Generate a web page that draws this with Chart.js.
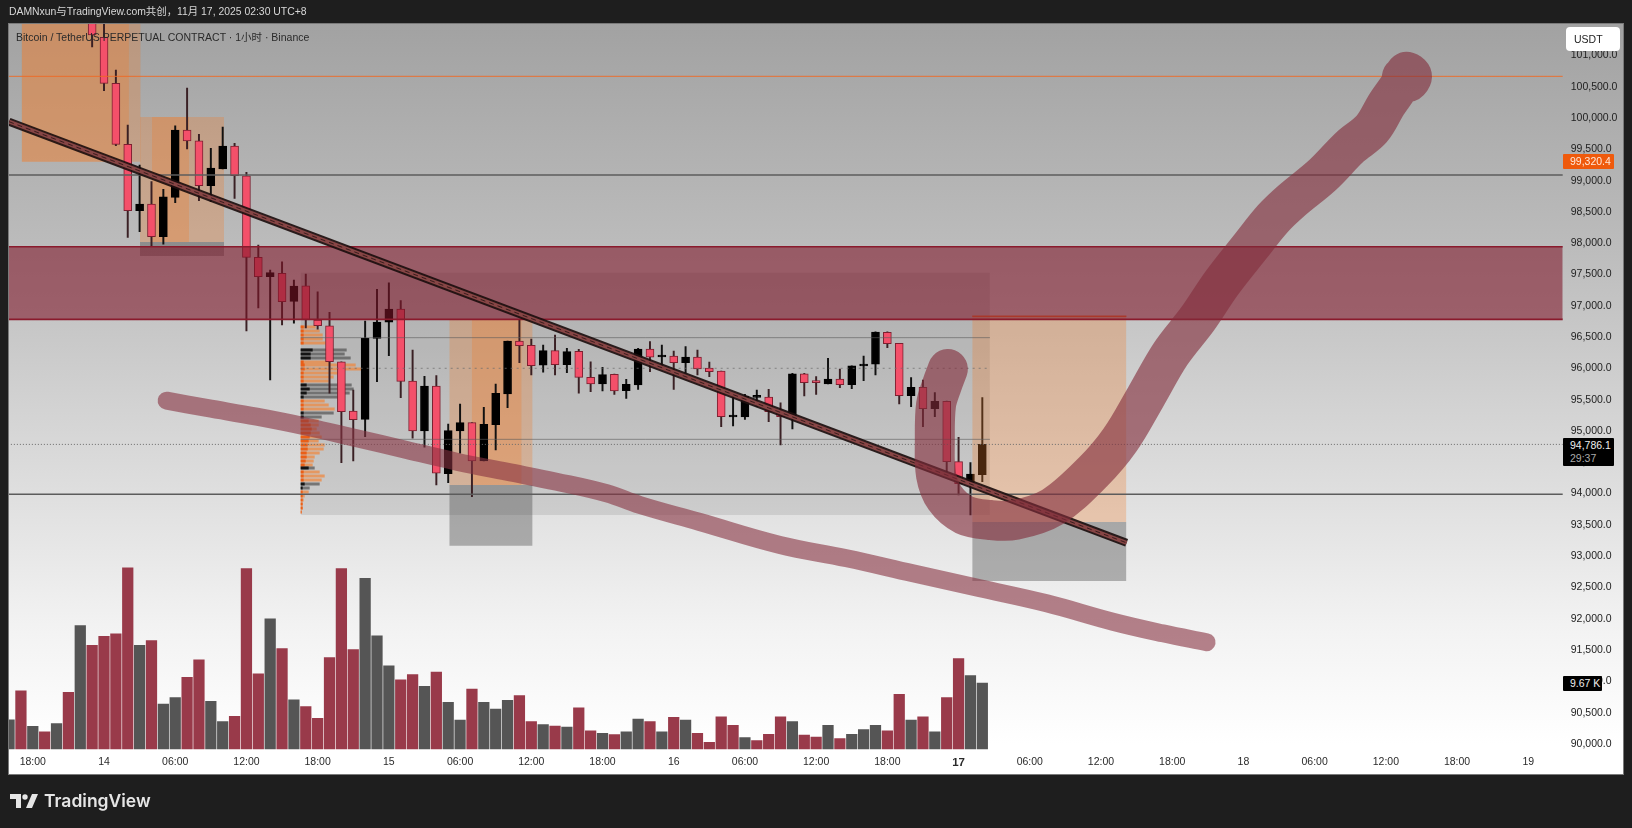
<!DOCTYPE html>
<html><head><meta charset="utf-8"><title>BTCUSDT</title>
<script src="https://cdn.jsdelivr.net/npm/chart.js@4"></script>
<style>
html,body{margin:0;padding:0;background:#1e1e1e;overflow:hidden}
#wrap{position:relative;width:1632px;height:828px;font-family:"Liberation Sans",Arial,sans-serif}
canvas{position:absolute;left:0;top:0}
.t{position:absolute;white-space:nowrap;line-height:1}
.box{position:absolute;box-sizing:border-box}
</style></head><body><div id="wrap">
<canvas id="c" width="1632" height="828"></canvas>
<div class="t" style="left:9px;top:7px;font-size:10.4px;color:#d8d8d8;font-family:'Liberation Sans','Noto Sans CJK SC'">DAMNxun与TradingView.com共创，11月 17, 2025 02:30 UTC+8</div>
<div class="t" style="left:16px;top:32px;font-size:10.5px;color:#2a2a2a;font-family:'Liberation Sans','Noto Sans CJK SC'">Bitcoin / TetherUS PERPETUAL CONTRACT · 1小时 · Binance</div>
<div class="box" style="left:1566px;top:27px;width:54px;height:24px;background:#fff;border-radius:4px"></div>
<div class="t" style="left:1574px;top:34px;font-size:10.5px;color:#222">USDT</div>
<div class="box" style="left:1563px;top:154px;width:51px;height:15px;background:#ef5a0c;border-radius:1px"></div>
<div class="t" style="left:1570px;top:156px;font-size:10.5px;color:#ffe9da">99,320.4</div>
<div class="box" style="left:1563px;top:438px;width:51px;height:28px;background:#000;border-radius:1px"></div>
<div class="t" style="left:1570px;top:440px;font-size:10.5px;color:#eee">94,786.1</div>
<div class="t" style="left:1570px;top:453px;font-size:10.5px;color:#aaa">29:37</div>
<div class="box" style="left:1563px;top:676px;width:39px;height:15px;background:#000;border-radius:1px"></div>
<div class="t" style="left:1570px;top:678px;font-size:10.5px;color:#eee">9.67 K</div>
<svg style="position:absolute;left:10px;top:793px" width="28" height="16" viewBox="0 0 28 16"><path d="M0 1h11v14H6V6H0zM22 1h6l-6 14h-6z" fill="#e6e6e6"/><circle cx="15" cy="4" r="2.7" fill="#e6e6e6"/></svg>
<div class="t" style="left:44px;top:792px;font-size:17.5px;font-weight:600;color:#e6e6e6;font-family:Inter,'Liberation Sans'">TradingView</div>
</div>
<script>
// ---- data ----
const firstHour = -2;                       // hours relative to 13 Nov 18:00
const volume = [4.29,8.54,3.33,2.53,3.71,8.31,18.07,15.19,16.51,16.89,26.56,15.19,15.87,6.59,7.52,10.5,13.08,6.99,4.0,4.79,26.42,11.03,19.09,14.7,7.22,6.2,4.5,13.38,26.42,14.55,25.01,16.6,12.2,10.15,10.89,9.19,11.28,6.84,4.25,8.79,6.84,5.86,7.14,7.81,4.0,3.56,3.37,3.22,6.05,2.68,2.3,2.1,2.53,4.4,4.0,2.53,4.64,4.25,2.3,0.98,4.73,3.47,1.66,1.22,2.15,4.73,4.0,2.05,1.76,3.47,1.51,2.15,2.83,3.47,2.68,8.01,4.25,4.73,2.53,7.52,13.23,10.74,9.67];
const volumeUp = [1,0,1,0,1,0,1,0,0,0,0,1,0,1,1,0,0,1,1,0,0,0,1,0,1,0,0,0,0,0,1,1,1,0,0,1,0,1,1,0,1,1,1,0,0,1,0,1,0,0,1,0,1,1,0,1,0,1,0,0,0,0,1,0,0,0,1,0,0,1,0,1,1,1,0,0,1,0,1,0,0,1,1];
const open  = [null,null,null,null,null,null,null,101645,101289,100554,99580,98519,98626,98104,98733,99808,99637,98919,99185,99553,99078,97775,97465,97519,97072,97321,96773,96682,96107,95320,95187,96481,96737,96949,95799,95000,95719,94318,95000,95133,94521,95101,95591,96438,96369,96050,96283,96059,96273,95858,95751,95906,95644,95735,96310,96182,96198,96091,96182,96007,95959,95224,95224,95538,95543,95308,95229,95915,95788,95751,95831,95740,96038,96066,96577,96401,95564,95698,95356,95474,94510,94165,94302];
const close = [null,null,null,null,null,null,null,101326,100554,99580,98519,98626,98104,98743,99808,99633,98919,99201,99553,99078,97775,97465,97529,97066,97316,96773,96682,96107,95308,95181,96481,96741,96949,95794,95000,95719,94325,95005,95133,94521,95107,95602,96438,96363,96043,96283,96059,96267,95858,95751,95900,95639,95746,96310,96178,96198,96091,96182,95991,95948,95229,95240,95559,95559,95308,95229,95915,95772,95772,95831,95740,96043,96070,96582,96395,95564,95698,95356,95474,94510,94158,94313,94786];
const high  = [null,null,null,null,null,null,null,101757,101597,100767,99888,99249,98983,98861,99877,100479,99740,99516,99856,99596,99133,97971,97572,97704,97412,97508,97225,96896,96107,95655,96757,97264,97369,97082,96294,95874,95884,95112,95432,95133,95379,95751,96438,96773,96470,96374,96534,96321,96305,96107,96018,95911,95826,96321,96427,96374,96278,96347,96294,96102,95959,95602,95587,95655,95666,95452,95922,95922,95868,96161,95991,96043,96198,96586,96586,96401,95852,95815,95612,95479,94899,94494,95532];
const low   = [null,null,null,null,null,null,null,101134,100436,99558,98094,98184,97944,97983,98647,99505,98679,98663,99185,98717,96597,96965,95815,96693,96721,96645,96625,95603,94494,94521,94909,95788,96203,95532,94884,94740,94138,94174,94644,93951,94521,94697,95372,96091,95895,95938,95895,95932,95603,95628,95639,95586,95522,95666,95947,96007,95666,95922,95895,95868,95069,95080,95187,95388,95149,94776,95032,95559,95586,95751,95692,95676,95804,95895,96331,95431,95388,95069,95228,94350,93978,93658,94190];
const tickLabels = ["18:00","14","06:00","12:00","18:00","15","06:00","12:00","18:00","16","06:00","12:00","18:00","17","06:00","12:00","18:00","18","06:00","12:00","18:00","19"];
const tickHours  = [0,6,12,18,24,30,36,42,48,54,60,66,72,78,84,90,96,102,108,114,120,126];
const priceTicks = [90000,90500,91000,91500,92000,92500,93000,93500,94000,94500,95000,95500,96000,96500,97000,97500,98000,98500,99000,99500,100000,100500,101000];
const priceMin = 89904, priceMax = 101502, hourMin = -2.005, hourMax = 128.9;

// drawing tools: [hourFrom, hourTo, priceTop, priceBottom]
const tintBoxes  = [[-0.94,9.09,101502,99302],[-0.94,8.10,101502,99302],[9.03,16.11,100016,98019],[10.04,13.16,100016,98019],[35.09,42.11,96773,94138],[36.98,41.19,96773,94138]];
const lastTint   = [79.15,92.14,96832,93546];
const stopBoxes  = [[9.03,16.11,98019,97796],[35.09,42.11,94138,93168]];
const lastStop   = [79.15,92.14,93546,92604];
const rangeBox   = [22.57,80.64,97529,93658];
const redBand    = [-2.1,129,97944,96784];
const solidLines = [[-2.1,129,99089],[-2.1,129,93989]];
const orangeLine = [-2.1,129,100666];
const rangeLines = [[22.57,80.64,96491],[22.57,80.64,94867]];
const pocLine    = [22.57,80.64,96002];
const lastLine   = [-2.1,129,94786];
const trendHours = [-2.005,92.16], trendPrices = [99941,93213];
const lowerHours = [11.28,14.65,18.86,23.07,27.29,31.5,35.71,39.92,44.13,48.35,51.15,56.2,62.95,68.57,74.15,79.8,85.42,91.0,95.2,98.9];
const lowerPrices= [95484,95368,95229,95069,94884,94697,94510,94350,94190,94005,93818,93546,93179,92967,92727,92488,92248,91954,91768,91625];
const upperHours = [77.1,76.6,76.1,76.0,76.1,76.85,78.5,80.65,82.75,85.92,89.32,91.6,93.76,95.86,98.16,100.18,102.6,104.48,106.05,108.67,110.97,112.8,114.08,115.18,115.7,116.2,115.85,115.35];
const upperPrices= [95990,95735,95416,94856,94297,93930,93658,93578,93578,93786,94345,94856,95543,96230,96796,97364,97949,98393,98679,99090,99537,99824,100224,100527,100735,100671,100575,100655];
const profilePrices = [96661,96598,96534,96470,96406,96294,96230,96166,96102,96054,95991,95927,95863,95799,95735,95671,95607,95543,95479,95415,95351,95288,95224,95160,95096,95032,94968,94904,94840,94776,94713,94649,94585,94521,94457,94409,94345,94281,94217,94153,94090,94026,93962,93898,93834,93770,93706];
const profileSize   = [15,19,22,22,25,46,44,50,30,55,66,38,33,28,51,53,49,38,24,28,34,33,21,18,18,16,19,21,18,24,23,19,14,13,12,14,19,24,21,19,9,8,4,3,2,2,1];
const profileCore   = [3,3,3,3,3,12,10,10,3,4,4,3,3,3,6,9,6,3,3,3,3,3,3,8,10,11,10,9,8,7,7,6,6,5,4,8,3,3,3,4,2,2,2,2,2,2,1];
const profileKind   = ['o','o','o','o','o','g','g','g','o','o','o','o','o','o','g','g','g','g','o','o','o','g','g','o','o','o','o','o','o','o','o','o','o','o','o','g','o','o','o','g','g','o','o','o','o','o','o'];

// ---- chart ----
const hourOf = i => firstHour + i;
const n = volume.length;
const seg = (x0,x1,y,opt) => Object.assign({type:'line',data:[{x:x0,y},{x:x1,y}],pointRadius:0,borderWidth:1,fill:false},opt);
const box = (b,color,order,extra) => Object.assign({type:'line',data:[{x:b[0],y:b[2]},{x:b[1],y:b[2]}],pointRadius:0,borderWidth:0,backgroundColor:color,fill:{value:b[3]},order},extra||{});
const profileSet = (kind,sizes,color,order) => {
  const d=[]; profilePrices.forEach((p,i)=>{ if(profileKind[i]===kind){ d.push({x:rangeBox[0],y:p},{x:rangeBox[0]+sizes[i]/11.87,y:p},{x:null,y:null}); }});
  return {type:'line',data:d,pointRadius:0,borderColor:color,borderWidth:3,borderCapStyle:'butt',fill:false,order};
};
const candleIdx=[...Array(n).keys()].filter(i=>open[i]!==null);
const isUp=i=>close[i]>=open[i];
const datasets=[
  {type:'bar',yAxisID:'yVol',data:volume.map((v,i)=>({x:hourOf(i),y:v})),barThickness:10.6,grouped:false,
   backgroundColor:volume.map((v,i)=>volumeUp[i]?'#555555':'#993a4a'),order:100},
  box(rangeBox,'rgba(40,40,40,0.11)',95),
  ...tintBoxes.map(b=>box(b,'rgba(240,125,45,0.30)',94)),
  ...stopBoxes.map(b=>box(b,'rgba(60,60,60,0.36)',94)),
  profileSet('o',profileSize,'rgba(240,135,60,0.72)',92),
  profileSet('g',profileSize,'rgba(85,85,85,0.72)',91),
  profileSet('o',profileCore,'rgba(235,85,10,0.85)',90),
  profileSet('g',profileCore,'rgba(10,10,10,0.9)',89),
  {type:'bar',data:candleIdx.map(i=>({x:hourOf(i),y:[low[i],high[i]]})),barThickness:1.3,grouped:false,
   backgroundColor:candleIdx.map(i=>isUp(i)?'#111111':'#3a2024'),order:81},
  {type:'bar',data:candleIdx.map(i=>({x:hourOf(i),y:[open[i],close[i]]})),barThickness:8,grouped:false,minBarLength:2,borderWidth:1,borderSkipped:false,
   backgroundColor:candleIdx.map(i=>isUp(i)?'#000000':'#f4506a'),borderColor:candleIdx.map(i=>isUp(i)?'#000000':'#7c2030'),order:80},
  box(lastTint,'rgba(240,125,45,0.30)',60,{borderWidth:1.5,borderColor:'rgba(235,90,20,0.8)'}),
  box(lastStop,'rgba(60,60,60,0.36)',60),
  box(redBand,'rgba(125,20,40,0.58)',50),
  seg(redBand[0],redBand[1],redBand[2],{borderColor:'#8a1a2c',borderWidth:1.6,order:49}),
  seg(redBand[0],redBand[1],redBand[3],{borderColor:'#8a1a2c',borderWidth:1.6,order:49}),
  seg(orangeLine[0],orangeLine[1],orangeLine[2],{borderColor:'rgba(240,105,35,0.9)',borderWidth:1,order:45}),
  ...solidLines.map(l=>seg(l[0],l[1],l[2],{borderColor:'#5c5c5c',borderWidth:1.5,order:45})),
  ...rangeLines.map(l=>seg(l[0],l[1],l[2],{borderColor:'rgba(90,90,90,0.6)',borderWidth:1,order:45})),
  seg(pocLine[0],pocLine[1],pocLine[2],{borderColor:'rgba(110,110,110,0.75)',borderWidth:1,borderDash:[2,4],order:45}),
  seg(lastLine[0],lastLine[1],lastLine[2],{borderColor:'#6a6a6a',borderWidth:1,borderDash:[1,2],order:45}),
  {type:'line',data:trendHours.map((h,i)=>({x:h,y:trendPrices[i]})),pointRadius:0,borderColor:'rgba(28,14,14,0.92)',borderWidth:8,fill:false,order:32},
  {type:'line',data:trendHours.map((h,i)=>({x:h,y:trendPrices[i]})),pointRadius:0,borderColor:'rgba(140,72,72,0.95)',borderWidth:4,fill:false,order:31},
  {type:'line',data:trendHours.map((h,i)=>({x:h,y:trendPrices[i]})),pointRadius:0,borderColor:'rgba(40,20,20,0.8)',borderWidth:1,borderDash:[5,4],fill:false,order:30},
  {type:'line',data:lowerHours.map((h,i)=>({x:h,y:lowerPrices[i]})),pointRadius:0,borderColor:'rgba(135,50,65,0.60)',borderWidth:18,borderCapStyle:'round',borderJoinStyle:'round',tension:.4,fill:false,order:20},
  {type:'line',data:upperHours.map((h,i)=>({x:h,y:upperPrices[i]})),pointRadius:0,borderColor:'rgba(130,45,60,0.62)',borderWidth:40,borderCapStyle:'round',borderJoinStyle:'round',tension:.35,fill:false,order:20}
];
const paneBg={id:'paneBg',beforeDraw(ch){const g=ch.ctx,gr=g.createLinearGradient(0,24,0,774);
  gr.addColorStop(0,'#a2a2a2');gr.addColorStop(.3,'#bcbcbc');gr.addColorStop(.6,'#dcdcdc');gr.addColorStop(.8,'#f2f2f2');gr.addColorStop(.96,'#ffffff');gr.addColorStop(1,'#ffffff');
  g.save();g.fillStyle='#1e1e1e';g.fillRect(0,0,1632,828);g.fillStyle=gr;g.fillRect(9,24,1614,750);g.strokeStyle='#7a7a7a';g.lineWidth=1;g.strokeRect(8.5,23.5,1615,751);g.restore();}};
new Chart(document.getElementById('c'),{
  type:'bar',
  data:{datasets},
  plugins:[paneBg],
  options:{
    responsive:false,animation:false,devicePixelRatio:1,
    layout:{autoPadding:false,padding:{left:9,top:24,right:9.3,bottom:54}},
    plugins:{legend:{display:false},tooltip:{enabled:false},title:{display:false}},
    events:[],
    scales:{
      x:{type:'linear',offset:false,min:hourMin,max:hourMax,grid:{display:false,drawTicks:false},border:{display:false},
         afterBuildTicks(s){s.ticks=tickHours.map(v=>({value:v}));},
         afterFit(s){s.height=24;s.paddingLeft=0;s.paddingRight=0;},
         ticks:{autoSkip:false,maxRotation:0,padding:6,color:'#2a2a2a',
           font:c=>({family:'"Liberation Sans"',size:c.tick&&c.tick.value===78?11.5:10.5,weight:c.tick&&c.tick.value===78?'bold':'normal'}),
           callback:(v,i)=>tickLabels[i]}},
      y:{type:'linear',position:'right',min:priceMin,max:priceMax,grid:{display:false,drawTicks:false},border:{display:false},
         afterBuildTicks(s){s.ticks=priceTicks.map(v=>({value:v}));},
         afterFit(s){s.width=60;s.paddingTop=0;s.paddingBottom=0;},
         ticks:{autoSkip:false,padding:8,crossAlign:'near',color:'#222',
           font:{family:'"Liberation Sans"',size:10.5},
           callback:v=>v.toLocaleString('en-US',{minimumFractionDigits:1,maximumFractionDigits:1})}},
      yVol:{type:'linear',display:false,min:-0.147,max:106.23}
    }
  }
});
</script></body></html>
